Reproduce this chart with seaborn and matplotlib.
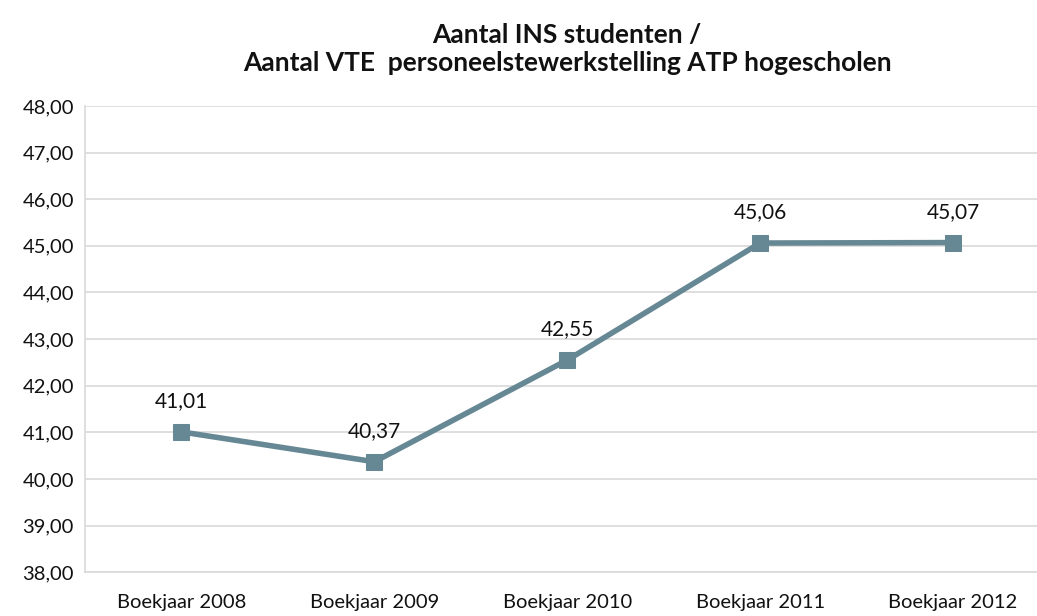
import matplotlib
matplotlib.use("Agg")
import matplotlib.pyplot as plt
import seaborn as sns
import pandas as pd

years = ["Boekjaar 2008", "Boekjaar 2009", "Boekjaar 2010", "Boekjaar 2011", "Boekjaar 2012"]
ratio = [41.01, 40.37, 42.55, 45.06, 45.07]
y_ticks = [38, 39, 40, 41, 42, 43, 44, 45, 46, 47, 48]

df = pd.DataFrame({"jaar": years, "ratio": ratio})

sns.set_theme(style="white")
plt.rcParams["font.family"] = ["Lato", "DejaVu Sans"]

fig = plt.figure(figsize=(10.37, 6.16), dpi=100)
ax = fig.add_axes([0.082, 0.071, 0.93, 0.757])

line_color = "#668894"
sns.lineplot(data=df, x="jaar", y="ratio", ax=ax, color=line_color, linewidth=4,
             marker="s", markersize=11, markeredgecolor=line_color, sort=False)

# data labels above each point
for i, v in enumerate(ratio):
    ax.annotate(f"{v:.2f}".replace(".", ","), (i, v), xytext=(0, 15),
                textcoords="offset points", ha="center", va="bottom", fontsize=15, color="#111111")

ax.set_ylim(38, 48)
ax.set_xlim(-0.5, 4.5)
ax.set_yticks(y_ticks)
ax.set_yticklabels([f"{t:.2f}".replace(".", ",") for t in y_ticks])
ax.yaxis.grid(True, color="#d9d9d9", linewidth=1.2)
ax.set_axisbelow(True)
ax.tick_params(axis="y", labelsize=14.5, colors="#111111", length=0, pad=8)
ax.tick_params(axis="x", labelsize=14.5, colors="#111111", length=0, pad=16)
ax.set_xlabel("")
ax.set_ylabel("")
for side in ["top", "right"]:
    ax.spines[side].set_visible(False)
for side in ["left", "bottom"]:
    ax.spines[side].set_color("#d9d9d9")
    ax.spines[side].set_linewidth(1.2)

fig.text(0.547, 0.963, "Aantal INS studenten /\nAantal VTE  personeelstewerkstelling ATP hogescholen",
         ha="center", va="top", fontsize=19, fontweight="bold", color="#111111", linespacing=1.2)

fig.savefig("out.png", dpi=100)
